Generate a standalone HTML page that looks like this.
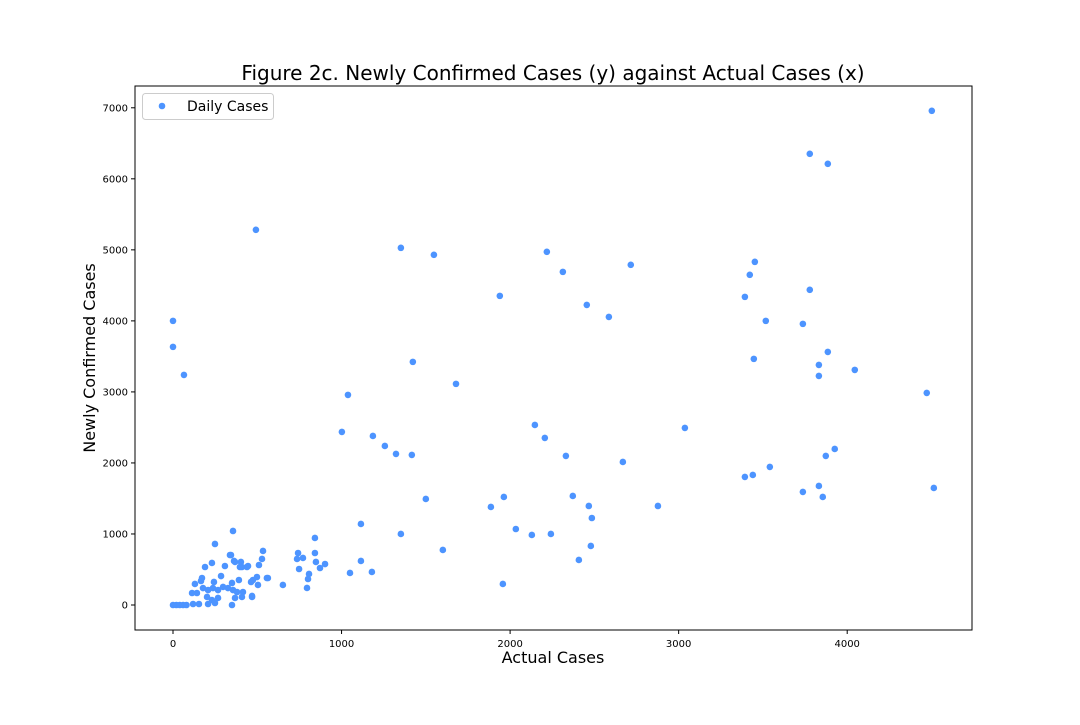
<!DOCTYPE html>
<html><head><meta charset="utf-8"><style>
body{margin:0;background:#fff;font-family:"Liberation Sans","DejaVu Sans",sans-serif}
svg text{font-family:"DejaVu Sans","Liberation Sans",sans-serif}
</style></head><body>
<svg id="chart" width="1080" height="720">
<rect width="1080" height="720" fill="#fff"/>
<text x="553" y="80" font-size="20" text-anchor="middle">Figure 2c. Newly Confirmed Cases (y) against Actual Cases (x)</text>
<g id="ticks"></g>
<g id="pts"></g>
<rect x="135" y="86" width="837" height="544" fill="none" stroke="#000" stroke-width="1"/>
<text x="553" y="663" font-size="16" text-anchor="middle">Actual Cases</text>
<text transform="translate(95,358) rotate(-90)" font-size="16" text-anchor="middle">Newly Confirmed Cases</text>
<g>
<rect x="142.5" y="93.5" width="131" height="26" rx="3" fill="#fff" stroke="#ccc"/>
<circle cx="162" cy="106" r="3.3" fill="#4d94ff"/>
<text x="187" y="111" font-size="14">Daily Cases</text>
</g>
</svg>
<script>
const xTicks=[0,1000,2000,3000,4000];
const yTicks=[0,1000,2000,3000,4000,5000,6000,7000];
const xVals=[4502,3778,3885,492,1352,1548,2218,2313,2716,3452,3422,3393,1939,2455,2586,3517,3737,3778,0,0,65,1423,1679,1038,3446,3885,3832,3832,4045,4472,1002,1186,1257,1323,1417,2147,2206,2331,3037,2669,3926,3873,3541,3393,3440,3737,3832,3855,4514,1500,1963,1886,2372,2467,2485,2877,2034,2129,2242,2479,2408,1601,1352,1115,1115,1050,1180,1957,842,902,872,842,771,736,742,748,807,801,795,848,652,534,528,510,498,557,463,469,445,409,362,403,356,338,249,344,231,190,368,397,439,308,285,172,166,130,243,350,391,474,563,504,142,178,208,237,267,297,326,356,415,113,202,231,267,380,409,368,469,154,119,208,249,350,0,20,40,60,80];
const yVals=[6958,6352,6211,5282,5028,4930,4972,4690,4789,4831,4648,4338,4352,4225,4056,4000,3958,4437,4000,3634,3239,3423,3113,2958,3465,3563,3380,3225,3310,2986,2437,2380,2239,2127,2113,2535,2352,2099,2493,2014,2197,2099,1944,1803,1831,1592,1676,1521,1648,1493,1521,1380,1535,1394,1225,1394,1070,986,1000,831,634,775,1000,1141,620,451,465,296,944,577,521,732,662,648,732,507,437,366,240,606,282,761,648,563,394,380,324,127,549,535,620,606,1042,704,859,704,592,535,606,535,535,549,408,380,338,296,324,310,352,352,380,282,169,239,211,239,211,254,239,211,183,169,113,70,99,183,113,99,113,14,14,14,28,0,0,0,0,0,0];
const X=v=>173+v*0.16855, Y=v=>605-v*0.07103;
const NS="http://www.w3.org/2000/svg";
const tg=document.getElementById('ticks'), pg=document.getElementById('pts');
xTicks.forEach(t=>{
 const l=document.createElementNS(NS,'line');l.setAttribute('x1',X(t));l.setAttribute('x2',X(t));l.setAttribute('y1',630);l.setAttribute('y2',634);l.setAttribute('stroke','#000');
 
 
 tg.appendChild(l);
 const s=document.createElementNS(NS,'text');s.setAttribute('x',X(t));s.setAttribute('y',647);s.setAttribute('font-size','10');s.setAttribute('text-anchor','middle');s.textContent=t;
 
 
 tg.appendChild(s);
});
yTicks.forEach(t=>{
 const l=document.createElementNS(NS,'line');l.setAttribute('x1',131);l.setAttribute('x2',135);l.setAttribute('y1',Y(t));l.setAttribute('y2',Y(t));l.setAttribute('stroke','#000');
 
 
 tg.appendChild(l);
 const s=document.createElementNS(NS,'text');s.setAttribute('x',128);s.setAttribute('y',Y(t)+3.5);s.setAttribute('font-size','10');s.setAttribute('text-anchor','end');s.textContent=t;
 
 
 tg.appendChild(s);
});
xVals.forEach((v,i)=>{
 const c=document.createElementNS(NS,'circle');c.setAttribute('cx',X(v));c.setAttribute('cy',Y(yVals[i]));c.setAttribute('r',3.3);c.setAttribute('fill','#4d94ff');
 
 
 pg.appendChild(c);
});
</script>
</body></html>
